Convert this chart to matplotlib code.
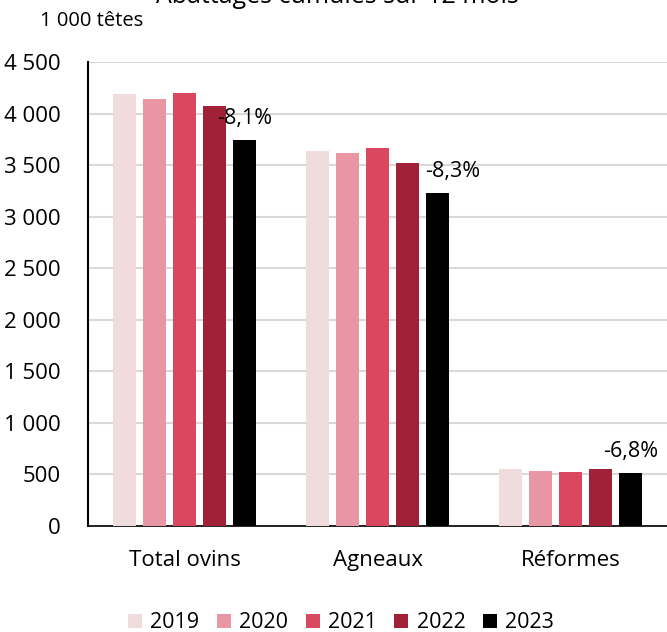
import matplotlib
matplotlib.use("Agg")
import matplotlib.pyplot as plt
import numpy as np
from matplotlib.patches import Patch

plt.rcParams['font.family'] = ['Open Sans', 'DejaVu Sans']

categories = ["Total ovins", "Agneaux", "Réformes"]
years = ["2019", "2020", "2021", "2022", "2023"]
values = {
    "2019": [4190, 3637, 553],
    "2020": [4141, 3618, 533],
    "2021": [4200, 3666, 524],
    "2022": [4074, 3521, 553],
    "2023": [3744, 3230, 514],
}
colors = ["#F0DCDC", "#E996A4", "#DA4860", "#A12138", "#000000"]
pct_labels = ["-8,1%", "-8,3%", "-6,8%"]
yticks = [0, 500, 1000, 1500, 2000, 2500, 3000, 3500, 4000, 4500]
ytick_labels = ["0", "500", "1 000", "1 500", "2 000", "2 500", "3 000", "3 500", "4 000", "4 500"]

fig = plt.figure(figsize=(6.67, 6.32), dpi=100)
ax = fig.add_axes([0.132, 0.1677, 0.868, 0.7342])

x = np.arange(len(categories))
slot = 0.155
bw = 0.12
for i, (yr, c) in enumerate(zip(years, colors)):
    ax.bar(x + (i - 2) * slot, values[yr], width=bw, color=c, zorder=3)

# percentage labels above 2023 bars
offsets = [0.0, 0.08, 0.0]
for j in range(len(categories)):
    xc = x[j] + 2 * slot + offsets[j]
    ax.text(xc, values["2023"][j] + 110, pct_labels[j], ha='center', va='bottom',
            fontsize=15.5)

ax.set_xlim(-0.5, 2.5)
ax.set_ylim(0, 4500)
ax.set_yticks(yticks)
ax.set_yticklabels(ytick_labels, fontsize=16)
ax.set_xticks(x)
ax.set_xticklabels(categories, fontsize=16)
ax.tick_params(axis='y', length=0, pad=20)
ax.tick_params(axis='x', length=0, pad=17)
ax.yaxis.grid(True, color='#D9D9D9', linewidth=1.5, zorder=0)
ax.set_axisbelow(True)
for s in ['top', 'right']:
    ax.spines[s].set_visible(False)
ax.spines['left'].set_color('black')
ax.spines['left'].set_linewidth(1.5)
ax.spines['bottom'].set_color('black')
ax.spines['bottom'].set_linewidth(1.2)

fig.text(40 / 667, 1 - 21 / 632, "1 000 têtes", fontsize=14.5, va='center', ha='left')
fig.text(337 / 667, 1 - (-3.5) / 632, "Abattages cumulés sur 12 mois", fontsize=18,
         va='center', ha='center')

handles = [Patch(facecolor=c, edgecolor='none') for c in colors]
fig.legend(handles, years, loc='center', bbox_to_anchor=(341 / 667, 1 - 623 / 632),
           ncol=5, frameon=False, fontsize=15.5, handlelength=0.65, handleheight=0.65,
           handletextpad=0.4, columnspacing=0.8)

fig.savefig("out.png", dpi=100)
